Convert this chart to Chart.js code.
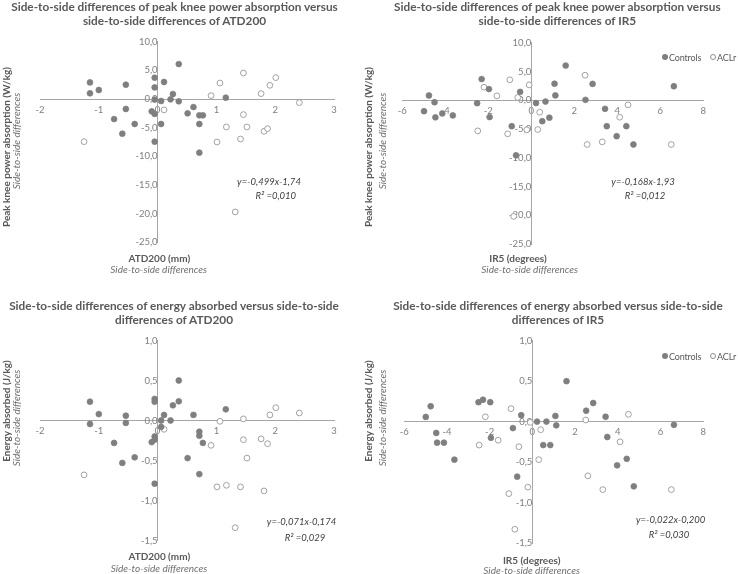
<!DOCTYPE html>
<html>
<head>
<meta charset="utf-8">
<script src="https://cdn.jsdelivr.net/npm/chart.js@4.4.0/dist/chart.umd.min.js"></script>
<style>
  body { margin: 0; background: #fff; }
  #wrap { position: relative; width: 738px; height: 574px; overflow: hidden; font-family: Lato, "Open Sans", sans-serif; color: #595959; }
  canvas { position: absolute; }
  .t { position: absolute; white-space: nowrap; transform: translate(-50%, -50%); line-height: 1; }
  .title { font-weight: bold; font-size: 11.8px; color: #595959; }
  .axt { font-weight: bold; font-size: 10px; color: #595959; }
  .axs { font-style: italic; font-size: 10px; color: #6f6f6f; }
  .eq { font-style: italic; font-size: 9.5px; color: #404040; }
  .leg { position: absolute; font-size: 9px; letter-spacing: -0.15px; color: #595959; white-space: nowrap; line-height: 1; transform: translateY(-50%); }
  .dot { position: absolute; width: 6px; height: 6px; border-radius: 50%; box-sizing: border-box; transform: translate(-50%, -50%); }
</style>
</head>
<body>
<div id="wrap"></div>
<script>
// tick values
const atdTicks = [-2, -1, 0, 1, 2, 3];
const ir5Ticks = [-6, -4, -2, 0, 2, 4, 6, 8];
const powerTicks = [-25, -20, -15, -10, -5, 0, 5, 10];
const energyTicks = [-1.5, -1.0, -0.5, 0, 0.5, 1.0];

// ATD200 side-to-side differences
const atdControlsX = [-1.15, -1.15, -1.0, -0.54, -0.54, -0.74, -0.6, -0.39, -0.05, -0.05, -0.05, -0.1, -0.05, -0.05, 0.06, 0.11, 0.06, 0.22, 0.26, 0.36, 0.36, 0.51, 0.61, 0.71, 0.71, 0.77, 0.71, 1.16];
const atdControlsPower = [2.9, 1.0, 1.57, 2.5, -1.74, -3.5, -6.05, -4.36, 3.72, 2.03, -0.1, -2.15, -2.6, -7.44, -0.35, 2.97, -4.36, -0.06, 0.87, 6.1, -0.4, -2.5, -1.4, -2.85, -4.36, -2.85, -9.36, 0.23];
const atdControlsEnergy = [0.235, -0.044, 0.08, 0.06, -0.03, -0.28, -0.53, -0.46, 0.27, 0.235, -0.2, -0.27, -0.24, -0.79, 0.0, 0.07, -0.08, 0.0, 0.19, 0.5, 0.24, -0.47, 0.07, -0.14, -0.19, -0.28, -0.67, 0.14];

const atdAclrX = [-1.25, 0.11, 0.91, 1.06, 1.46, 1.17, 1.01, 1.46, 1.52, 1.41, 1.32, 1.76, 1.91, 2.01, 2.41, 1.81, 1.87];
const atdAclrPower = [-7.44, -1.9, 0.59, 2.79, 4.54, -4.88, -7.5, -2.72, -4.88, -6.98, -19.7, 0.94, 2.39, 3.73, -0.63, -5.63, -5.17];
const atdAclrEnergy = [-0.68, -0.11, -0.31, -0.01, 0.02, -0.81, -0.83, -0.24, -0.47, -0.83, -1.34, -0.23, 0.07, 0.16, 0.094, -0.88, -0.29];

// IR5 side-to-side differences
const ir5ControlsX = [-4.76, -4.5, -4.99, -4.46, -4.14, -3.65, -2.52, -2.31, -1.97, -1.94, -0.52, -0.91, -0.71, 0.22, 0.66, 0.51, 0.84, 1.08, 1.12, 1.6, 2.52, 2.85, 3.43, 3.51, 3.97, 4.42, 4.75, 6.63];
const ir5ControlsPower = [0.82, -0.35, -1.91, -2.98, -2.3, -2.64, -0.52, 3.68, 1.94, -2.93, 1.45, -4.52, -9.58, -0.49, -0.23, -3.65, -3.04, 2.87, 0.84, 6.03, 0.06, 2.84, -1.5, -4.52, -6.26, -4.52, -7.7, 2.43];
const ir5ControlsEnergy = [0.19, -0.14, 0.058, -0.26, -0.26, -0.47, 0.24, 0.27, 0.24, -0.2, 0.08, -0.08, -0.68, 0.0, 0.0, -0.29, -0.29, 0.07, -0.046, 0.5, 0.135, 0.23, 0.06, -0.19, -0.54, -0.46, -0.8, -0.04];

const ir5AclrX = [-2.2, -1.6, -1.0, -0.63, -0.1, -2.49, -1.1, -0.21, 0.3, 0.39, 2.5, 2.6, 3.3, 4.11, 4.5, 6.51, -0.82];
const ir5AclrPower = [2.26, 0.75, 3.55, 0.47, 2.66, -5.33, -5.85, -5.15, -5.1, -2.09, 4.35, -7.7, -7.24, -2.96, -0.81, -7.7, -20.2];
const ir5AclrEnergy = [0.06, -0.23, 0.16, -0.31, -0.01, -0.29, -0.89, -0.81, -0.47, -0.1, 0.02, -0.67, -0.84, -0.25, 0.09, -0.84, -1.33];

const seriesNames = ["Controls", "ACLr"];

const panels = [
  { left: 0, top: 0, cx: [atdControlsX, atdAclrX], cy: [atdControlsPower, atdAclrPower],
    xTicks: atdTicks, yTicks: powerTicks, pad: { left: 40, right: 35, top: 41.7, bottom: 44.7 },
    title: ["Side-to-side differences of peak knee power absorption versus", "side-to-side differences of ATD200"], titlePos: [174.5, 7, 21],
    yTitle: "Peak knee power absorption (W/kg)", yPos: [5.5, 146.5, 16, 140.5],
    xTitle: "ATD200 (mm)", xPos: [159.3, 258.3, 158.7, 269.3],
    eq: ["y=-0,499x-1,74", "R² =0,010"], eqPos: [269, 181.7, 275.8, 196], legend: false },
  { left: 369, top: 0, cx: [ir5ControlsX, ir5AclrX], cy: [ir5ControlsPower, ir5AclrPower],
    xTicks: ir5Ticks, yTicks: powerTicks, pad: { left: 33.3, right: 34.7, top: 42.7, bottom: 43 },
    title: ["Side-to-side differences of peak knee power absorption versus", "side-to-side differences of IR5"], titlePos: [557.3, 7, 21],
    yTitle: "Peak knee power absorption (W/kg)", yPos: [368, 146.5, 382, 140.5],
    xTitle: "IR5 (degrees)", xPos: [518, 258.3, 529.7, 269.3],
    eq: ["y=-0,168x-1,93", "R² =0,012"], eqPos: [643, 181.7, 645, 196], legend: 57 },
  { left: 0, top: 287, cx: [atdControlsX, atdAclrX], cy: [atdControlsEnergy, atdAclrEnergy],
    xTicks: atdTicks, yTicks: energyTicks, pad: { left: 40, right: 35, top: 53.5, bottom: 33.5 },
    title: ["Side-to-side differences of energy absorbed versus side-to-side", "differences of ATD200"], titlePos: [174, 305.5, 319.5],
    yTitle: "Energy absorbed (J/kg)", yPos: [5.5, 411, 16, 418],
    xTitle: "ATD200 (mm)", xPos: [159.3, 556.3, 159, 567.7],
    eq: ["y=-0,071x-0,174", "R² =0,029"], eqPos: [301.5, 522, 305, 537.7], legend: false },
  { left: 369, top: 287, cx: [ir5ControlsX, ir5AclrX], cy: [ir5ControlsEnergy, ir5AclrEnergy],
    xTicks: ir5Ticks, yTicks: energyTicks, pad: { left: 35.2, right: 34.8, top: 53.7, bottom: 31 },
    title: ["Side-to-side differences of energy absorbed versus side-to-side", "differences of IR5"], titlePos: [558, 305.5, 319.5],
    yTitle: "Energy absorbed (J/kg)", yPos: [368, 411, 382, 418],
    xTitle: "IR5 (degrees)", xPos: [531.7, 559.7, 531.7, 570.3],
    eq: ["y=-0,022x-0,200", "R² =0,030"], eqPos: [670.7, 520.3, 669, 535.3], legend: 355.7 }
];

const wrap = document.getElementById("wrap");

function addText(text, x, y, cls, rotate) {
  const d = document.createElement("div");
  d.className = "t " + cls;
  d.textContent = text;
  d.style.left = x + "px";
  d.style.top = y + "px";
  if (rotate) d.style.transform = "translate(-50%, -50%) rotate(-90deg)";
  wrap.appendChild(d);
}

function addEl(cls, x, y, html, style) {
  const d = document.createElement(cls === "dot" ? "span" : "div");
  d.className = cls;
  d.style.left = x + "px";
  d.style.top = y + "px";
  if (html) d.textContent = html;
  if (style) Object.assign(d.style, style);
  wrap.appendChild(d);
}

const tickFont = { family: "Lato", size: 9.5 };

function axisOpts(axis, ticks, cross, fmt) {
  return {
    type: "linear",
    axis: axis,
    min: ticks[0],
    max: ticks[ticks.length - 1],
    position: cross,
    grid: { display: false, drawTicks: false },
    border: { display: true, color: "#a6a6a6", width: 1 },
    afterBuildTicks: (s) => { s.ticks = ticks.map(v => ({ value: v })); },
    ticks: { color: "#7f7f7f", font: tickFont, padding: 5, autoSkip: false, maxRotation: 0, callback: fmt }
  };
}

panels.forEach((p) => {
  const cv = document.createElement("canvas");
  cv.width = 369;
  cv.height = 287;
  cv.style.left = p.left + "px";
  cv.style.top = p.top + "px";
  wrap.appendChild(cv);

  const toPts = (xs, ys) => xs.map((x, i) => ({ x: x, y: ys[i] }));

  new Chart(cv.getContext("2d"), {
    type: "scatter",
    data: {
      datasets: [
        { label: seriesNames[0], data: toPts(p.cx[0], p.cy[0]), backgroundColor: "#7f7f7f", borderColor: "#7f7f7f", borderWidth: 0.75, pointRadius: 2.9 },
        { label: seriesNames[1], data: toPts(p.cx[1], p.cy[1]), backgroundColor: "#ffffff", borderColor: "#8c8c8c", borderWidth: 0.8, pointRadius: 2.9 }
      ]
    },
    options: {
      responsive: false,
      animation: false,
      layout: { padding: p.pad },
      plugins: { legend: { display: false }, tooltip: { enabled: false } },
      scales: {
        x: axisOpts("x", p.xTicks, { y: 0 }, (v) => String(v)),
        y: axisOpts("y", p.yTicks, { x: 0 }, (v) => v.toFixed(1).replace(".", ","))
      }
    }
  });

  addText(p.title[0], p.titlePos[0], p.titlePos[1], "title");
  addText(p.title[1], p.titlePos[0], p.titlePos[2], "title");
  addText(p.yTitle, p.yPos[0], p.yPos[1], "axt", true);
  addText("Side-to-side differences", p.yPos[2], p.yPos[3], "axs", true);
  addText(p.xTitle, p.xPos[0], p.xPos[1], "axt");
  addText("Side-to-side differences", p.xPos[2], p.xPos[3], "axs");
  addText(p.eq[0], p.eqPos[0], p.eqPos[1], "eq");
  addText(p.eq[1], p.eqPos[2], p.eqPos[3], "eq");

  if (p.legend) {
    addEl("dot", 664.5, p.legend, null, { background: "#7f7f7f" });
    addEl("leg", 669, p.legend, seriesNames[0]);
    addEl("dot", 713, p.legend, null, { background: "#fff", border: "0.8px solid #8c8c8c" });
    addEl("leg", 717, p.legend, seriesNames[1]);
  }
});
</script>
</body>
</html>
